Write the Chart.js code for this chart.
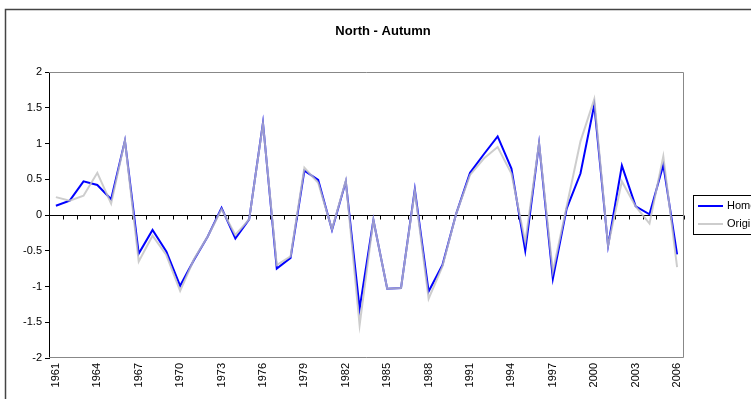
<!DOCTYPE html>
<html>
<head>
<meta charset="utf-8">
<script src="https://cdn.jsdelivr.net/npm/chart.js@4/dist/chart.umd.min.js"></script>
<style>
  body { margin: 0; background: #fff; }
  canvas { display: block; }
</style>
</head>
<body>
<canvas id="northChart" width="751" height="399"></canvas>
<script>
// data
const years = ['1961', '1962', '1963', '1964', '1965', '1966', '1967', '1968', '1969', '1970',
    '1971', '1972', '1973', '1974', '1975', '1976', '1977', '1978', '1979', '1980',
    '1981', '1982', '1983', '1984', '1985', '1986', '1987', '1988', '1989', '1990',
    '1991', '1992', '1993', '1994', '1995', '1996', '1997', '1998', '1999', '2000',
    '2001', '2002', '2003', '2004', '2005', '2006'];

const homValues = [0.13, 0.2, 0.47, 0.42, 0.22, 1.04, -0.54, -0.21, -0.51, -0.99,
    -0.63, -0.3, 0.1, -0.33, -0.06, 1.29, -0.75, -0.6, 0.62, 0.49,
    -0.21, 0.47, -1.31, -0.07, -1.03, -1.02, 0.36, -1.07, -0.7, 0.02,
    0.59, 0.85, 1.1, 0.65, -0.5, 1.0, -0.89, 0.09, 0.58, 1.54,
    -0.43, 0.69, 0.12, 0.01, 0.7, -0.55];

const origValues = [0.25, 0.2, 0.27, 0.59, 0.16, 1.04, -0.65, -0.29, -0.56, -1.06,
    -0.62, -0.3, 0.08, -0.28, -0.06, 1.28, -0.7, -0.58, 0.66, 0.45,
    -0.2, 0.48, -1.54, -0.07, -1.03, -1.02, 0.34, -1.17, -0.72, 0.02,
    0.56, 0.79, 0.95, 0.58, -0.38, 1.0, -0.79, 0.12, 1.03, 1.62,
    -0.43, 0.47, 0.12, -0.12, 0.82, -0.73];

const seriesNames = ['Homogenised', 'Original'];
const chartTitle = 'North - Autumn';
const yMin = -2, yMax = 2, yStep = 0.5;
const labelEvery = 3;

Chart.defaults.font.family = '"Liberation Sans", Arial, sans-serif';
Chart.defaults.color = '#000';

// frame, plot box, zero-line ticks, title and legend (Excel style)
const excelLook = {
    id: 'excelLook',
    beforeDraw(chart) {
        const ctx = chart.ctx;
        ctx.save();
        ctx.fillStyle = '#fff';
        ctx.fillRect(0, 0, chart.width, chart.height);
        ctx.strokeStyle = '#444';
        ctx.lineWidth = 1.5;
        ctx.beginPath();
        ctx.moveTo(5.5, chart.height + 2);
        ctx.lineTo(5.5, 9.5);
        ctx.lineTo(chart.width + 2, 9.5);
        ctx.stroke();
        ctx.restore();
    },
    beforeDatasetsDraw(chart) {
        const ctx = chart.ctx;
        const a = chart.chartArea;
        const x = chart.scales.x;
        const y = chart.scales.y;
        ctx.save();
        ctx.strokeStyle = '#888';
        ctx.lineWidth = 1;
        ctx.beginPath();
        ctx.moveTo(a.left, a.top + 0.5);
        ctx.lineTo(a.right - 0.5, a.top + 0.5);
        ctx.lineTo(a.right - 0.5, a.bottom - 0.5);
        ctx.lineTo(a.left, a.bottom - 0.5);
        ctx.stroke();
        // tick marks on the zero line
        const y0 = Math.round(y.getPixelForValue(0)) + 0.5;
        const step = x.getPixelForValue(1) - x.getPixelForValue(0);
        ctx.strokeStyle = '#000';
        ctx.beginPath();
        for (let i = 0; i <= years.length; i++) {
            const px = Math.round(x.getPixelForValue(i) - step / 2) + 0.5;
            ctx.moveTo(px, y0);
            ctx.lineTo(px, y0 + 4);
        }
        ctx.stroke();
        ctx.restore();
    },
    afterDraw(chart) {
        const ctx = chart.ctx;
        ctx.save();
        ctx.fillStyle = '#000';
        ctx.font = 'bold 13px "Liberation Sans", Arial, sans-serif';
        ctx.textAlign = 'center';
        ctx.textBaseline = 'middle';
        ctx.fillText(chartTitle, 383, 31);

        // legend box, runs off the right edge like the reference
        ctx.strokeStyle = '#000';
        ctx.lineWidth = 1;
        ctx.strokeRect(693.5, 195.5, 90, 39);
        ctx.font = '11px "Liberation Sans", Arial, sans-serif';
        ctx.textAlign = 'left';
        chart.data.datasets.forEach((ds, i) => {
            const ly = 206 + i * 18;
            ctx.strokeStyle = ds.borderColor;
            ctx.lineWidth = ds.borderWidth;
            ctx.beginPath();
            ctx.moveTo(698, ly);
            ctx.lineTo(723, ly);
            ctx.stroke();
            ctx.fillText(ds.label, 727, ly);
        });
        ctx.restore();
    }
};

new Chart(document.getElementById('northChart'), {
    type: 'line',
    data: {
        labels: years,
        datasets: [{
            label: seriesNames[0],
            data: homValues,
            borderColor: '#0000ff',
            borderWidth: 2,
            pointRadius: 0,
            tension: 0,
            order: 2
        }, {
            label: seriesNames[1],
            data: origValues,
            borderColor: 'rgba(192, 192, 192, 0.8)',
            borderWidth: 2,
            pointRadius: 0,
            tension: 0,
            order: 1
        }]
    },
    options: {
        responsive: false,
        animation: false,
        layout: {
            padding: { top: 72, right: 67, bottom: 0, left: 0 }
        },
        plugins: {
            legend: { display: false },
            title: { display: false },
            tooltip: { enabled: false }
        },
        scales: {
            x: {
                offset: true,
                afterFit(scale) { scale.height = 41; },
                grid: { display: false, drawTicks: false },
                border: { display: false },
                ticks: {
                    autoSkip: false,
                    minRotation: 90,
                    maxRotation: 90,
                    padding: 5,
                    font: { size: 11 },
                    callback: function (val, i) {
                        return i % labelEvery === 0 ? years[i] : '';
                    }
                }
            },
            y: {
                min: yMin,
                max: yMax,
                afterFit(scale) { scale.width = 49; },
                grid: {
                    color: (c) => (c.tick && c.tick.value === 0 ? '#000' : 'rgba(0,0,0,0)'),
                    tickColor: '#000',
                    tickLength: 4
                },
                border: { color: '#000', width: 1 },
                ticks: {
                    stepSize: yStep,
                    padding: 3,
                    font: { size: 11 },
                    callback: (v) => String(v)
                }
            }
        }
    },
    plugins: [excelLook]
});
</script>
</body>
</html>
